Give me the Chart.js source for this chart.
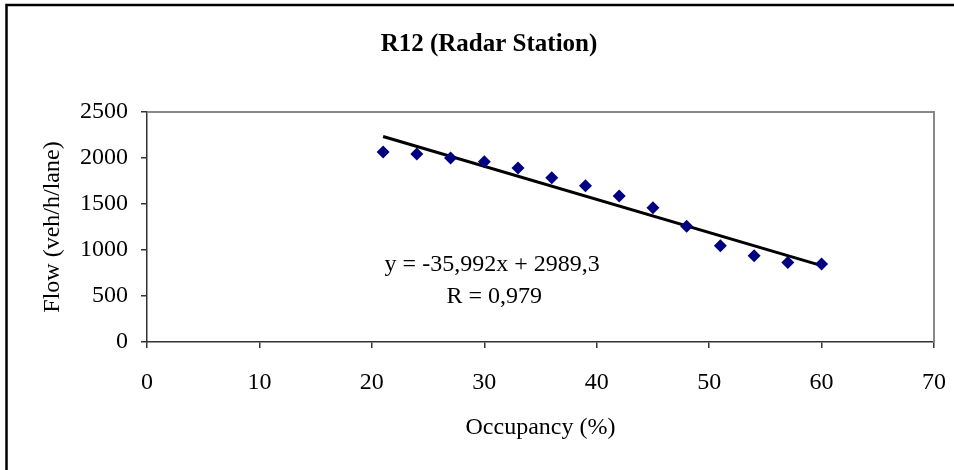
<!DOCTYPE html>
<html lang="en">
<head>
  <meta charset="UTF-8">
  <title>R12 (Radar Station)</title>
  <script src="https://cdn.jsdelivr.net/npm/chart.js"></script>
  <style>
    body { margin: 0; background: #fff; }
  </style>
</head>
<body>
  <canvas id="chartCanvas" width="954" height="470"></canvas>

  <script>
    // occupancy (%) and flow (veh/h/lane)
    const occupancy = [21, 24, 27, 30, 33, 36, 39, 42, 45, 48, 51, 54, 57, 60];
    const flow = [2065, 2043, 2000, 1960, 1891, 1786, 1699, 1587, 1460, 1257, 1047, 938, 865, 848];

    // linear trend line end points
    const trendX = [21, 60];
    const trendY = [2234, 830];

    const xTicks = [0, 10, 20, 30, 40, 50, 60, 70];
    const yTicks = [0, 500, 1000, 1500, 2000, 2500];

    const chartTitle = 'R12 (Radar Station)';
    const equationLines = ['y = -35,992x + 2989,3', 'R = 0,979'];

    const serif = 'Liberation Serif';
    const axisColor = '#333';

    // frame, title and equation text
    const decorations = {
      id: 'decorations',
      beforeDatasetsDraw(chart) {
        const { ctx, chartArea: a } = chart;
        ctx.save();
        ctx.strokeStyle = '#888';
        ctx.lineWidth = 2;
        ctx.beginPath();
        ctx.moveTo(a.left, a.top);
        ctx.lineTo(a.right, a.top);
        ctx.lineTo(a.right, a.bottom);
        ctx.stroke();
        ctx.restore();
      },
      afterDraw(chart) {
        const { ctx, scales } = chart;
        ctx.save();
        // outer border (left and top only)
        ctx.strokeStyle = '#000';
        ctx.lineWidth = 2.5;
        ctx.beginPath();
        ctx.moveTo(6.5, 470);
        ctx.lineTo(6.5, 5);
        ctx.lineTo(954, 5);
        ctx.stroke();

        ctx.fillStyle = '#000';
        ctx.textAlign = 'center';
        ctx.textBaseline = 'alphabetic';
        ctx.font = 'bold 25px "' + serif + '"';
        ctx.fillText(chartTitle, 489, 50.5);

        ctx.font = '24px "' + serif + '"';
        const cx = scales.x.getPixelForValue(30.7);
        ctx.fillText(equationLines[0], cx, scales.y.getPixelForValue(775));
        ctx.fillText(equationLines[1], cx + 2, scales.y.getPixelForValue(427));
        ctx.restore();
      }
    };

    const ctx = document.getElementById('chartCanvas');
    new Chart(ctx, {
      type: 'scatter',
      data: {
        datasets: [
          {
            label: 'Flow',
            data: occupancy.map((x, i) => ({ x, y: flow[i] })),
            pointStyle: 'rectRot',
            pointRadius: 6.5,
            pointHoverRadius: 6.5,
            backgroundColor: '#000080',
            borderColor: '#000080',
            borderWidth: 0,
            order: 1
          },
          {
            label: 'Trend',
            type: 'line',
            data: trendX.map((x, i) => ({ x, y: trendY[i] })),
            borderColor: '#000',
            borderWidth: 3,
            pointRadius: 0,
            fill: false,
            order: 2
          }
        ]
      },
      options: {
        responsive: false,
        animation: false,
        layout: { padding: { top: 112, right: 20, left: 0, bottom: 0 } },
        plugins: {
          legend: { display: false },
          tooltip: { enabled: false }
        },
        scales: {
          x: {
            type: 'linear',
            min: 0,
            max: 70,
            afterBuildTicks: s => { s.ticks = xTicks.map(v => ({ value: v })); },
            afterFit: s => { s.height = 128; s.paddingRight = 0; s.paddingLeft = 0; },
            grid: { drawOnChartArea: false, tickLength: 6, color: axisColor, lineWidth: 1.5 },
            border: { color: axisColor, width: 1.5 },
            ticks: { color: '#000', padding: 20, font: { family: serif, size: 24 } },
            title: {
              display: true,
              text: 'Occupancy (%)',
              color: '#000',
              font: { family: serif, size: 24 },
              padding: { top: 0, bottom: 28 }
            }
          },
          y: {
            min: 0,
            max: 2500,
            afterBuildTicks: s => { s.ticks = yTicks.map(v => ({ value: v })); },
            afterFit: s => { s.width = 147; s.paddingTop = 0; s.paddingBottom = 0; },
            grid: { drawOnChartArea: false, tickLength: 6, color: axisColor, lineWidth: 1.5 },
            border: { color: axisColor, width: 1.5 },
            ticks: {
              color: '#000',
              padding: 13,
              font: { family: serif, size: 24 },
              callback: v => String(v)
            },
            title: {
              display: true,
              text: 'Flow (veh/h/lane)',
              color: '#000',
              font: { family: serif, size: 24 },
              padding: { top: 38, bottom: 0 }
            }
          }
        }
      },
      plugins: [decorations]
    });
  </script>
</body>
</html>
